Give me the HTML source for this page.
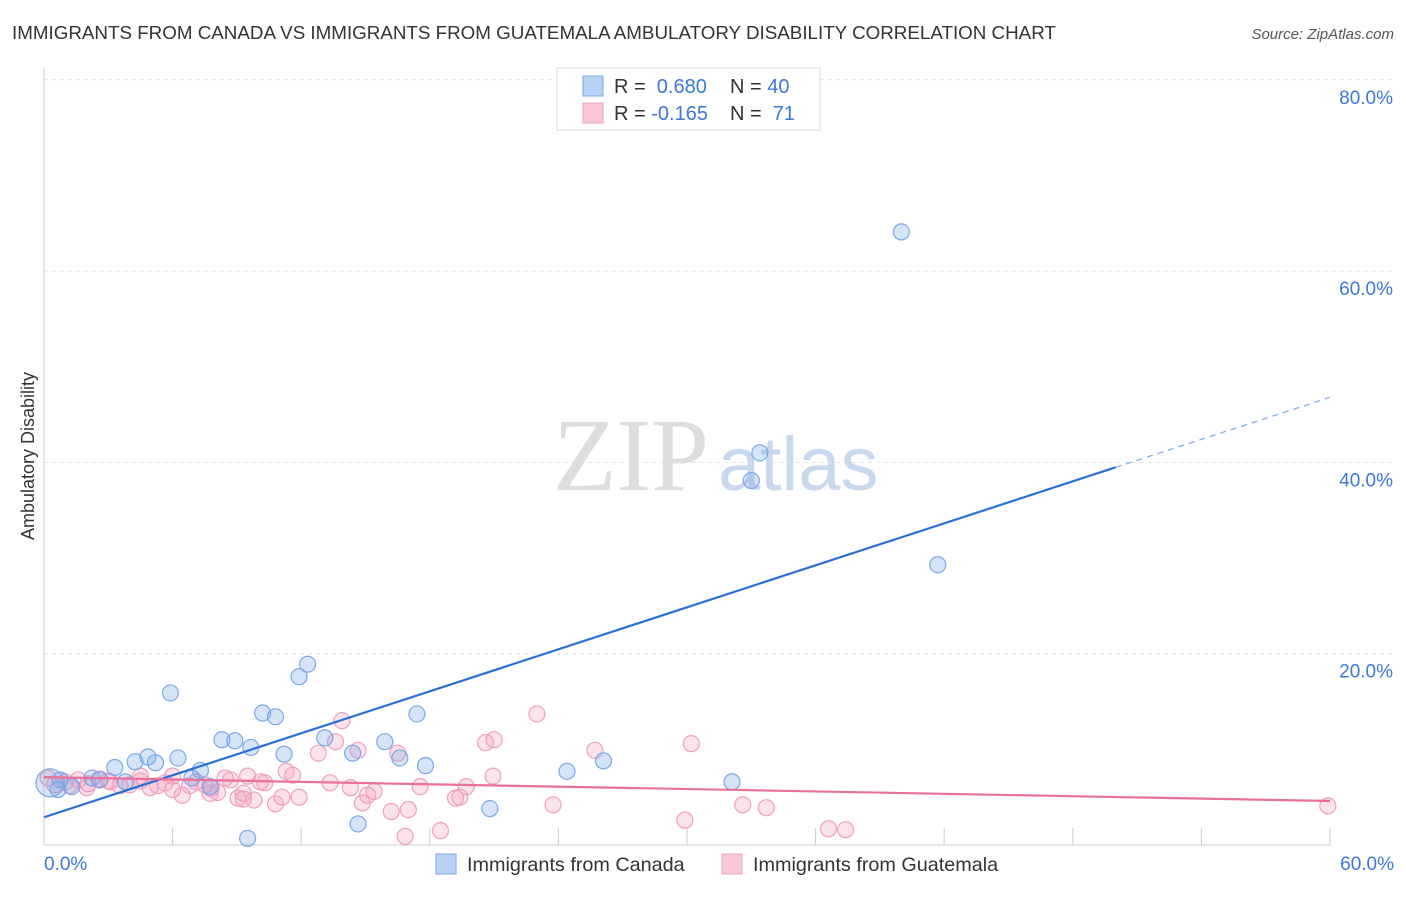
<!DOCTYPE html>
<html><head><meta charset="utf-8"><style>
body{margin:0;background:#fff;font-family:"Liberation Sans",sans-serif;}
#c{position:relative;width:1406px;height:892px;}
</style></head><body>
<div id="c">
<svg id="s" width="1406" height="892" xmlns="http://www.w3.org/2000/svg">
<text x="12" y="39" font-size="18.8" fill="#333">IMMIGRANTS FROM CANADA VS IMMIGRANTS FROM GUATEMALA AMBULATORY DISABILITY CORRELATION CHART</text>
<text x="1394" y="39" font-size="15" fill="#555" font-style="italic" text-anchor="end">Source: ZipAtlas.com</text>
<text x="34" y="456" font-size="18" fill="#333" text-anchor="middle" transform="rotate(-90 34 456)">Ambulatory Disability</text>
<text x="553" y="490" font-size="104" fill="#ddd" font-family="Liberation Serif,serif">ZIP</text>
<text x="718" y="490" font-size="76" fill="#c8d8ee">atlas</text>
<g id="grid"></g><g id="axes"></g><g id="pink"></g><g id="blue"></g><g id="lines"></g>
<rect x="557" y="68" width="263" height="62" fill="#fff" stroke="#ddd"/>
<rect x="583" y="76" width="20" height="20" fill="#b8d2f4" stroke="#7aa8e8"/>
<rect x="583" y="103" width="20" height="20" fill="#f9c8d8" stroke="#f0a0bc"/>
<text x="614" y="93" font-size="20" fill="#333">R = <tspan fill="#3b78d8">&#160;0.680</tspan><tspan x="730">N = </tspan><tspan fill="#3b78d8">40</tspan></text>
<text x="614" y="120" font-size="20" fill="#333">R = <tspan fill="#3b78d8">-0.165</tspan><tspan x="730">N = </tspan><tspan fill="#3b78d8">&#160;71</tspan></text>
<rect x="436" y="854" width="20" height="20" fill="#b8d2f4" stroke="#7aa8e8"/>
<text x="467" y="871" font-size="19.8" fill="#333">Immigrants from Canada</text>
<rect x="722" y="854" width="20" height="20" fill="#f9c8d8" stroke="#f0a0bc"/>
<text x="753" y="871" font-size="19.8" fill="#333">Immigrants from Guatemala</text>
</svg></div>
<script>
const yTicks=[20,40,60,80];
const yTickLabels=["20.0%","40.0%","60.0%","80.0%"];
const xTicks=[0,6,12,18,24,30,36,42,48,54,60];
const blueX=[0.28,0.65,1.3,2.24,3.3,3.8,4.25,4.85,5.2,5.9,6.25,6.9,7.3,7.75,8.3,8.9,9.65,9.5,10.2,10.8,11.2,11.9,12.3,13.1,14.4,14.65,15.9,16.6,17.4,17.8,20.8,24.4,26.1,32.1,33.0,33.4,40.0,41.7,0.75,2.6];
const blueY=[6.5,5.8,6.1,7.0,8.1,6.6,8.7,9.2,8.6,15.9,9.1,7.0,7.8,6.1,11.0,10.9,10.2,0.7,13.8,13.4,9.5,17.6,18.9,11.2,9.6,2.2,10.8,9.1,13.7,8.3,3.8,7.7,8.8,6.6,38.1,41.0,64.1,29.3,6.8,6.8];
const pinkX=[0.19,0.5,1.0,1.6,2.05,2.6,3.1,3.55,4.0,4.5,4.95,5.3,5.65,6.0,6.45,6.8,7.1,7.5,7.75,8.1,8.45,8.7,9.05,9.3,9.5,9.8,10.1,10.3,10.8,11.1,11.3,11.6,12.8,13.35,13.6,13.9,14.3,14.65,14.85,15.1,15.4,16.2,16.5,16.85,17.0,17.55,18.5,19.2,19.4,19.7,20.6,20.95,21.0,23.0,23.75,25.7,29.9,30.2,32.6,33.7,36.6,37.4,59.9,2.0,4.5,7.8,9.3,11.9,6.0,3.0,1.2];
const pinkY=[7.0,6.3,6.6,6.8,6.4,6.9,6.6,6.2,6.3,6.7,6.0,6.2,6.5,7.2,5.2,6.2,6.6,6.3,5.4,5.5,7.0,6.8,4.9,4.8,7.2,4.7,6.6,6.5,4.3,5.0,7.7,7.3,9.6,6.5,10.8,13.0,6.0,9.9,4.4,5.2,5.6,3.5,9.6,0.9,3.7,6.1,1.5,4.9,5.0,6.1,10.7,7.2,11.0,13.7,4.2,9.9,2.6,10.6,4.2,3.9,1.7,1.6,4.1,6.0,7.2,5.9,5.4,5.0,5.8,6.7,6.2];
const blueLine=[2.9,46.8];
const pinkLine=[7.1,4.6];
const X0=44,X1=1330,Y0=845,PXY=9.565;
function sx(v){return X0+(X1-X0)*v/60;}
function sy(v){return Y0-v*PXY;}
const NS="http://www.w3.org/2000/svg";
function mk(t,a,p){const e=document.createElementNS(NS,t);for(const k in a)e.setAttribute(k,a[k]);p.appendChild(e);return e;}
const grid=document.getElementById('grid'),axes=document.getElementById('axes');
yTicks.forEach((t,i)=>{
 const l=mk('line',{x1:44,x2:1394,y1:sy(t),y2:sy(t),stroke:'#e2e2e2','stroke-dasharray':'4 4'},grid);
 
 
 const tx=mk('text',{x:1393,y:sy(t)+24,'font-size':19,fill:'#3b78d8','text-anchor':'end'},grid);
 tx.textContent=yTickLabels[i];
 
 
});
const ax=mk('line',{x1:44,x2:1330,y1:Y0,y2:Y0,stroke:'#ccc'},axes);


const ay=mk('line',{x1:44,x2:44,y1:68,y2:Y0,stroke:'#ccc'},axes);


xTicks.forEach(t=>{
 const l=mk('line',{x1:sx(t),x2:sx(t),y1:828,y2:Y0,stroke:'#ccc'},axes);
 
 
});
const xl0=mk('text',{x:44,y:870,'font-size':19,fill:'#3b78d8'},axes);xl0.textContent='0.0%';


const xl1=mk('text',{x:1394,y:870,'font-size':19,fill:'#3b78d8','text-anchor':'end'},axes);xl1.textContent='60.0%';


const pg=document.getElementById('pink');
pinkX.forEach((x,i)=>{
 const c=mk('circle',{cx:sx(x),cy:sy(pinkY[i]),r:8,fill:'rgba(244,160,190,0.3)',stroke:'#f0a0bc','stroke-width':1.2},pg);
 
 
});
const bg=document.getElementById('blue');
blueX.forEach((x,i)=>{
 const c=mk('circle',{cx:sx(x),cy:sy(blueY[i]),r:i===0?14:8,fill:'rgba(120,165,232,0.3)',stroke:'#7aa8e8','stroke-width':1.2},bg);
 
 
});
const lg=document.getElementById('lines');
const bEnd=50,bAt=v=>blueLine[0]+(blueLine[1]-blueLine[0])*v/60;
const b1=mk('line',{x1:sx(0),y1:sy(bAt(0)),x2:sx(bEnd),y2:sy(bAt(bEnd)),stroke:'#2a6fd6','stroke-width':2.2},lg);


const b2=mk('line',{x1:sx(bEnd),y1:sy(bAt(bEnd)),x2:sx(60),y2:sy(bAt(60)),stroke:'#7aa8e8','stroke-width':1.2,'stroke-dasharray':'6 5'},lg);


const p1=mk('line',{x1:sx(0),y1:sy(pinkLine[0]),x2:sx(60),y2:sy(pinkLine[1]),stroke:'#e8709a','stroke-width':2.2},lg);


</script>
</body></html>
